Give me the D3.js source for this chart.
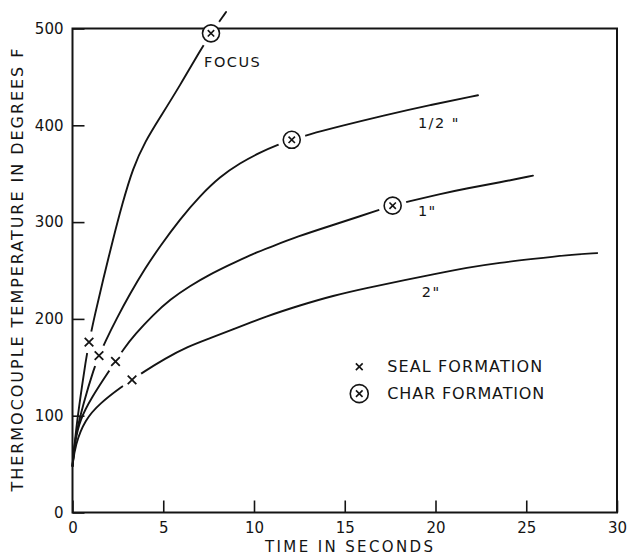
<!DOCTYPE html>
<html><head><meta charset="utf-8">
<script src="https://cdn.jsdelivr.net/npm/d3@7"></script>
<style>body{margin:0;background:#fff}svg{display:block}</style>
</head><body><svg id="c" width="634" height="555"></svg>
<script>
// ---- data ----
const xTicks = [0, 5, 10, 15, 20, 25, 30];
const yTicks = [0, 100, 200, 300, 400, 500];
const seriesNames = ['FOCUS', '1/2 "', '1"', '2"'];

const focusT = [0, 0.19, 0.41, 0.74, 0.91, 1.24, 1.68, 2.23, 2.73, 3.33, 3.99, 4.82, 5.92, 7.02, 7.63, 8.46];
const focusV = [48, 85, 116, 158, 176, 205, 240, 282, 318, 356, 383, 408, 441, 477, 495, 517];

const halfT = [0, 0.11, 0.60, 1.20, 1.46, 1.79, 2.45, 3.17, 3.99, 4.82, 5.92, 7.02, 8.13, 9.23, 10.33, 11.32, 12.08, 12.92, 14.74, 17.11, 19.70, 22.34];
const halfV = [48, 75, 113, 150, 162, 176, 201, 226, 252, 275, 303, 327, 347, 361, 372, 380, 385, 390, 399, 410, 421, 431];

const oneT = [0, 0.13, 0.41, 1.06, 1.97, 2.37, 2.78, 3.44, 4.44, 5.37, 6.47, 7.58, 8.68, 9.78, 10.88, 12.37, 14.35, 15.84, 16.78, 17.64, 18.43, 20.25, 21.74, 23.55, 25.37];
const oneV = [48, 73, 96, 119, 145, 156, 168, 184, 204, 220, 234, 246, 256, 266, 274, 285, 297, 306, 312, 317, 321, 329, 335, 341, 348];

const twoT = [0, 0.15, 0.69, 1.52, 2.71, 3.28, 3.90, 5.10, 6.31, 7.58, 8.68, 10.72, 12.53, 14.35, 16.21, 18.04, 19.86, 21.74, 23.55, 25.37, 27.24, 28.90];
const twoV = [48, 70, 96, 113, 130, 137, 145, 159, 171, 180, 188, 203, 214, 224, 232, 239, 246, 253, 258, 262, 266, 268];

// seal formation (x) and char formation (circled x)
const sealT = [0.91, 1.46, 2.37, 3.28];
const sealV = [176, 162, 156, 137];
const charT = [7.63, 12.08, 17.64];
const charV = [495, 385, 317];

// curve label anchors (data units)
const labelT = [7.25, 19.03, 19.03, 19.24];
const labelV = [460.5, 397.5, 305.8, 222.6];

const legendLabels = ['SEAL FORMATION', 'CHAR FORMATION'];
const xTitle = 'TIME IN SECONDS';
const yTitle = 'THERMOCOUPLE TEMPERATURE IN DEGREES F';

// ---- drawing ----
const ink = '#141414';
const font = 'DejaVu Sans, Verdana, sans-serif';
const svg = d3.select('#c');
svg.append('rect').attr('width', 634).attr('height', 555).attr('fill', '#fff');

const x = d3.scaleLinear().domain([0, 30]).range([72.5, 617]);
const y = d3.scaleLinear().domain([0, 500]).range([512.5, 28.5]);

const series = [
  focusT.map((t, i) => [t, focusV[i]]),
  halfT.map((t, i) => [t, halfV[i]]),
  oneT.map((t, i) => [t, oneV[i]]),
  twoT.map((t, i) => [t, twoV[i]])
];

const line = d3.line().x(d => x(d[0])).y(d => y(d[1])).curve(d3.curveBasis);

svg.append('g').selectAll('path').data(series).join('path')
  .attr('d', line).attr('fill', 'none').attr('stroke', ink)
  .attr('stroke-width', 1.9).attr('stroke-linecap', 'round').attr('stroke-linejoin', 'round');

// white gaps around markers
const halo = svg.append('g').attr('fill', '#fff');
halo.selectAll('.hs').data(sealT).join('circle').attr('class', 'hs')
  .attr('cx', d => x(d)).attr('cy', (d, i) => y(sealV[i])).attr('r', 11);
halo.selectAll('.hc').data(charT).join('circle').attr('class', 'hc')
  .attr('cx', d => x(d)).attr('cy', (d, i) => y(charV[i])).attr('r', 14);

// frame
svg.append('rect')
  .attr('x', x(0)).attr('y', y(500))
  .attr('width', x(30) - x(0)).attr('height', y(0) - y(500))
  .attr('fill', 'none').attr('stroke', ink).attr('stroke-width', 2);

// axes
const gx = svg.append('g').attr('transform', `translate(0,${y(0)})`)
  .call(d3.axisBottom(x).tickValues(xTicks).tickSize(-12).tickSizeOuter(0).tickPadding(9.5).tickFormat(d3.format('d')));
const gy = svg.append('g').attr('transform', `translate(${x(0)},0)`)
  .call(d3.axisLeft(y).tickValues(yTicks).tickSize(-12).tickSizeOuter(0).tickPadding(9).tickFormat(d3.format('d')));
[gx, gy].forEach(g => {
  g.select('.domain').remove();
  g.selectAll('line').attr('stroke', ink).attr('stroke-width', 1.6);
  g.selectAll('text').attr('fill', ink).style('font-family', font).style('font-size', '15px');
});

// markers
function xMark(g, cx, cy, s, w) {
  g.append('path').attr('d', `M${cx - s},${cy - s}L${cx + s},${cy + s}M${cx - s},${cy + s}L${cx + s},${cy - s}`)
    .attr('stroke', ink).attr('stroke-width', w).attr('fill', 'none');
}
const mk = svg.append('g');
sealT.forEach((t, i) => xMark(mk, x(t), y(sealV[i]), 4.3, 1.8));
charT.forEach((t, i) => {
  mk.append('circle').attr('cx', x(t)).attr('cy', y(charV[i])).attr('r', 8.5)
    .attr('fill', '#fff').attr('stroke', ink).attr('stroke-width', 1.6);
  xMark(mk, x(t), y(charV[i]), 3.2, 1.6);
});

// curve labels
svg.append('g').selectAll('text').data(seriesNames).join('text')
  .attr('x', (d, i) => x(labelT[i])).attr('y', (d, i) => y(labelV[i]))
  .text(d => d).attr('fill', ink)
  .style('font-family', font).style('font-size', '14.5px').style('letter-spacing', '1.5px');

// legend
const lg = svg.append('g');
const legX = x(15.8);
const legY = [y(150.6), y(122.8)];
xMark(lg, legX, legY[0], 3.4, 1.6);
lg.append('circle').attr('cx', legX).attr('cy', legY[1]).attr('r', 9)
  .attr('fill', '#fff').attr('stroke', ink).attr('stroke-width', 1.6);
xMark(lg, legX, legY[1], 3.3, 1.6);
lg.selectAll('text').data(legendLabels).join('text')
  .attr('x', legX + 28).attr('y', (d, i) => legY[i] + 5.5)
  .attr('textLength', (d, i) => i ? 157 : 155).attr('lengthAdjust', 'spacing')
  .text(d => d).attr('fill', ink)
  .style('font-family', font).style('font-size', '16px');

// axis titles
svg.append('text').attr('x', 265).attr('y', 551.5)
  .attr('textLength', 168).attr('lengthAdjust', 'spacing')
  .text(xTitle).attr('fill', ink).style('font-family', font).style('font-size', '15px');
svg.append('text').attr('transform', 'translate(22.5,491.5) rotate(-90)')
  .attr('textLength', 443).attr('lengthAdjust', 'spacing')
  .text(yTitle).attr('fill', ink).style('font-family', font).style('font-size', '16px');
</script></body></html>
